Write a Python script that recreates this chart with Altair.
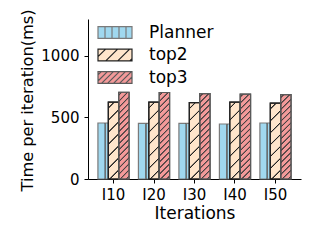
import altair as alt
import pandas as pd

iters = ["I10", "I20", "I30", "I40", "I50"]
series = ["Planner", "top2", "top3"]
planner = [455, 452, 452, 447, 455]
top2 = [625, 625, 620, 625, 617]
top3 = [705, 703, 693, 690, 685]

fills = ["#a0d8ef", "#ffe5cb", "#f39a9a"]
edges = ["#7a7a7a", "#222222", "#5a5a5a"]

rows = []
for name, vals in zip(series, [planner, top2, top3]):
    for it, v in zip(iters, vals):
        rows.append({"iter": it, "series": name, "value": v})
df = pd.DataFrame(rows)

W, H = 213, 160
YMAX = 1300
BAR_W = 10.4
CLEAR = "rgba(0,0,0,0)"
HY = 0.35  # half height of legend swatch in symbol units


def stripe_stops(centers, span, color, half=0.35, soft=0.75):
    stops = [{"offset": 0, "color": CLEAR}]
    for c in centers:
        a0 = (c - half - soft) / span
        a1 = (c - half) / span
        b1 = (c + half) / span
        b0 = (c + half + soft) / span
        if a0 <= stops[-1]["offset"] or b0 >= 1:
            continue
        stops += [
            {"offset": a0, "color": CLEAR},
            {"offset": a1, "color": color},
            {"offset": b1, "color": color},
            {"offset": b0, "color": CLEAR},
        ]
    stops.append({"offset": 1, "color": CLEAR})
    return stops


def diag_gradient(value, period, color, span=140.0):
    h = value / YMAX * H
    k = h / BAR_W
    s = span / (BAR_W * (1 + k * k))
    centers = [period * 0.5 + i * period for i in range(int(span / period) + 1)]
    return {"gradient": "linear", "x1": 0, "y1": 0, "x2": s, "y2": s * k,
            "stops": stripe_stops(centers, span, color)}


def vert_gradient(color):
    return {"gradient": "linear", "x1": 0, "y1": 0, "x2": 1, "y2": 0,
            "stops": stripe_stops([7.4], BAR_W, color, half=0.45, soft=0.6)}


def f(v):
    return f"{v:.3f}".rstrip("0").rstrip(".")


def swatch_vertical(period):
    p = f"M-1,-{HY}H1V{HY}H-1Z"
    x = -1 + period
    while x < 1 - 0.05:
        p += f"M{f(x)},-{HY}V{HY}"
        x += period
    return p


def swatch_diag(period, start):
    p = f"M-1,-{HY}H1V{HY}H-1Z"
    x0 = start - 2 * HY
    while x0 < 1:
        # line: x = x0 + (HY - y), y from HY to -HY
        ya = HY if x0 >= -1 else HY + 1 + x0
        yb = -HY if x0 + 2 * HY <= 1 else HY - (1 - x0)
        if ya - yb > 0.05:
            xa = x0 + (HY - ya)
            xb = x0 + (HY - yb)
            p += f"M{f(xa)},{f(ya)}L{f(xb)},{f(yb)}"
        x0 += period
    return p


# legend swatch is 34 px wide -> 17 px per symbol unit
shapes = [swatch_vertical(7 / 17), swatch_diag(12 / 17, -0.55), swatch_diag(6 / 17, -0.8)]

font = "DejaVu Sans"

x_enc = alt.X("iter:N", sort=iters, title="Iterations",
              scale=alt.Scale(paddingInner=0.23, paddingOuter=0.245),
              axis=alt.Axis(labelAngle=0, labelFontSize=15, tickSize=4, labelPadding=4,
                            titleFontSize=17, titleFontWeight="normal",
                            titleBaseline="alphabetic", titleY=39))
xo_enc = alt.XOffset("series:N", sort=series)
y_axis = alt.Axis(values=[0, 500, 1000], format="d", labelFontSize=15, tickSize=4,
                  labelPadding=5, grid=False, titleFontSize=16.2,
                  titleFontWeight="normal", titleAngle=270,
                  titleX=-61, titleY=81, titleAlign="center", titleBaseline="middle")
y_scale = alt.Scale(domain=[0, YMAX], nice=False)
YTITLE = "Time per iteration(ms)"

legend = alt.Legend(title=None, orient="none", legendX=9, legendY=5,
                    labelFontSize=17, labelOffset=16,
                    symbolSize=1156, symbolStrokeWidth=1.2, symbolOpacity=1,
                    clipHeight=17, rowPadding=4.5, labelLimit=200)
fill_enc = alt.Fill("series:N", sort=series, scale=alt.Scale(domain=series, range=fills),
                    legend=legend)
stroke_enc = alt.Stroke("series:N", sort=series, scale=alt.Scale(domain=series, range=edges))

base = alt.Chart(df).encode(
    x=x_enc, xOffset=xo_enc,
    y=alt.Y("value:Q", title=YTITLE, scale=y_scale, axis=y_axis),
)

# hidden points (covered by the bars) that carry the hatched legend swatches
keys = alt.Chart(df).transform_calculate(mid="datum.value / 2").mark_point(
    filled=True, size=12, strokeWidth=0, opacity=1
).encode(
    x=x_enc, xOffset=xo_enc,
    y=alt.Y("mid:Q", title=YTITLE, scale=y_scale, axis=y_axis),
    fill=fill_enc, stroke=stroke_enc,
    shape=alt.Shape("series:N", sort=series, scale=alt.Scale(domain=series, range=shapes)),
)

bars = base.mark_bar(strokeWidth=1.2).encode(fill=fill_enc, stroke=stroke_enc)

hatch_planner = base.mark_bar(fill=vert_gradient("#6f6f6f"), strokeWidth=0).transform_filter(
    alt.datum.series == "Planner")
hatch_top2 = base.mark_bar(fill=diag_gradient(sum(top2) / len(top2), 12, "#222222"),
                           stroke=edges[1], strokeWidth=1.2).transform_filter(
    alt.datum.series == "top2")
hatch_top3 = base.mark_bar(fill=diag_gradient(sum(top3) / len(top3), 6, "#444444"),
                           stroke=edges[2], strokeWidth=1.2).transform_filter(
    alt.datum.series == "top3")

chart = alt.layer(keys, bars, hatch_planner, hatch_top2, hatch_top3).properties(
    width=W, height=H,
    autosize=alt.AutoSizeParams(type="none"),
    padding={"left": 80, "top": 11, "right": 11, "bottom": 45},
).configure_view(stroke=None).configure_axis(
    domainColor="black", tickColor="black", labelColor="black", titleColor="black",
    labelFont=font, titleFont=font, domainWidth=1, tickWidth=1,
).configure_legend(labelFont=font, labelColor="black")

chart.save("out.html", embed_options={"renderer": "svg", "actions": False})
